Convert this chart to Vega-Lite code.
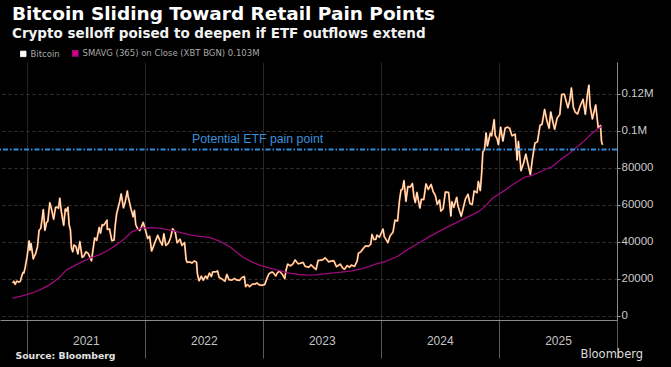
{
  "$schema": "https://vega.github.io/schema/vega-lite/v6.json",
  "width": 617,
  "height": 258,
  "autosize": {"type": "none"},
  "padding": {"left": 0, "top": 62, "right": 54, "bottom": 47},
  "background": "#000000",
  "config": {"view": {"stroke": null}},
  "title": {
    "text": "Bitcoin Sliding Toward Retail Pain Points",
    "subtitle": "Crypto selloff poised to deepen if ETF outflows extend",
    "anchor": "start", "frame": "group", "dx": 12, "offset": 9,
    "font": "DejaVu Sans", "fontSize": 18.5, "fontWeight": "bold", "color": "#ffffff",
    "subtitleFont": "DejaVu Sans", "subtitleFontSize": 13.5, "subtitleFontWeight": "bold",
    "subtitleColor": "#f2f2f2", "subtitlePadding": 3
  },
  "data": {"values": [
{"s":"B","d":"2020-11-18","v":17800},{"s":"B","d":"2020-11-22","v":18700},{"s":"B","d":"2020-11-26","v":17100},{"s":"B","d":"2020-12-01","v":18800},{"s":"B","d":"2020-12-08","v":18300},{"s":"B","d":"2020-12-12","v":18800},{"s":"B","d":"2020-12-16","v":21300},{"s":"B","d":"2020-12-20","v":23500},{"s":"B","d":"2020-12-23","v":23200},{"s":"B","d":"2020-12-27","v":26300},
{"s":"B","d":"2021-01-02","v":32200},{"s":"B","d":"2021-01-08","v":40600},{"s":"B","d":"2021-01-11","v":35500},{"s":"B","d":"2021-01-14","v":39200},{"s":"B","d":"2021-01-21","v":30800},{"s":"B","d":"2021-01-24","v":32300},{"s":"B","d":"2021-01-28","v":33500},{"s":"B","d":"2021-02-03","v":37600},{"s":"B","d":"2021-02-08","v":46400},{"s":"B","d":"2021-02-13","v":47200},{"s":"B","d":"2021-02-17","v":52100},{"s":"B","d":"2021-02-21","v":57500},{"s":"B","d":"2021-02-26","v":46300},{"s":"B","d":"2021-03-03","v":50500},{"s":"B","d":"2021-03-07","v":51200},{"s":"B","d":"2021-03-13","v":61200},{"s":"B","d":"2021-03-17","v":58900},{"s":"B","d":"2021-03-25","v":52300},{"s":"B","d":"2021-03-31","v":58800},{"s":"B","d":"2021-04-05","v":58800},{"s":"B","d":"2021-04-09","v":58200},{"s":"B","d":"2021-04-13","v":63600},{"s":"B","d":"2021-04-18","v":56200},{"s":"B","d":"2021-04-25","v":49000},{"s":"B","d":"2021-04-30","v":57800},{"s":"B","d":"2021-05-03","v":56600},{"s":"B","d":"2021-05-08","v":58800},{"s":"B","d":"2021-05-12","v":49200},{"s":"B","d":"2021-05-16","v":46400},{"s":"B","d":"2021-05-19","v":36800},{"s":"B","d":"2021-05-23","v":34700},{"s":"B","d":"2021-05-27","v":38400},{"s":"B","d":"2021-06-02","v":37600},{"s":"B","d":"2021-06-08","v":33500},{"s":"B","d":"2021-06-14","v":40200},{"s":"B","d":"2021-06-21","v":31700},{"s":"B","d":"2021-06-26","v":32200},{"s":"B","d":"2021-07-03","v":34700},{"s":"B","d":"2021-07-10","v":33800},{"s":"B","d":"2021-07-20","v":29800},{"s":"B","d":"2021-07-26","v":37300},{"s":"B","d":"2021-07-30","v":42200},{"s":"B","d":"2021-08-05","v":40800},{"s":"B","d":"2021-08-13","v":47800},{"s":"B","d":"2021-08-17","v":44700},{"s":"B","d":"2021-08-22","v":49300},{"s":"B","d":"2021-08-27","v":49000},{"s":"B","d":"2021-09-06","v":51800},{"s":"B","d":"2021-09-07","v":46800},{"s":"B","d":"2021-09-14","v":47000},{"s":"B","d":"2021-09-21","v":40700},{"s":"B","d":"2021-09-28","v":41000},{"s":"B","d":"2021-10-01","v":48200},{"s":"B","d":"2021-10-06","v":55400},{"s":"B","d":"2021-10-15","v":61600},{"s":"B","d":"2021-10-20","v":66000},{"s":"B","d":"2021-10-27","v":58400},{"s":"B","d":"2021-11-01","v":61300},{"s":"B","d":"2021-11-08","v":67600},{"s":"B","d":"2021-11-10","v":64900},{"s":"B","d":"2021-11-16","v":60400},{"s":"B","d":"2021-11-19","v":58100},{"s":"B","d":"2021-11-26","v":53600},{"s":"B","d":"2021-11-30","v":57000},{"s":"B","d":"2021-12-04","v":49400},{"s":"B","d":"2021-12-10","v":47100},{"s":"B","d":"2021-12-17","v":46200},{"s":"B","d":"2021-12-27","v":50600},
{"s":"B","d":"2022-01-03","v":46400},{"s":"B","d":"2022-01-10","v":41800},{"s":"B","d":"2022-01-16","v":43100},{"s":"B","d":"2022-01-22","v":35100},{"s":"B","d":"2022-01-27","v":37200},{"s":"B","d":"2022-02-05","v":41400},{"s":"B","d":"2022-02-10","v":43600},{"s":"B","d":"2022-02-17","v":40600},{"s":"B","d":"2022-02-24","v":38300},{"s":"B","d":"2022-03-01","v":44400},{"s":"B","d":"2022-03-07","v":38100},{"s":"B","d":"2022-03-15","v":39300},{"s":"B","d":"2022-03-22","v":42400},{"s":"B","d":"2022-03-28","v":47100},{"s":"B","d":"2022-04-05","v":45500},{"s":"B","d":"2022-04-11","v":39500},{"s":"B","d":"2022-04-20","v":41500},{"s":"B","d":"2022-04-26","v":38100},{"s":"B","d":"2022-05-04","v":39700},{"s":"B","d":"2022-05-09","v":30300},{"s":"B","d":"2022-05-12","v":29000},{"s":"B","d":"2022-05-20","v":29200},{"s":"B","d":"2022-05-27","v":28600},{"s":"B","d":"2022-06-03","v":29700},{"s":"B","d":"2022-06-10","v":29100},{"s":"B","d":"2022-06-13","v":22500},{"s":"B","d":"2022-06-18","v":19000},{"s":"B","d":"2022-06-25","v":21500},{"s":"B","d":"2022-07-01","v":19300},{"s":"B","d":"2022-07-08","v":21600},{"s":"B","d":"2022-07-13","v":20200},{"s":"B","d":"2022-07-20","v":23200},{"s":"B","d":"2022-07-26","v":21300},{"s":"B","d":"2022-07-30","v":23800},{"s":"B","d":"2022-08-10","v":23900},{"s":"B","d":"2022-08-14","v":24400},{"s":"B","d":"2022-08-19","v":20800},{"s":"B","d":"2022-08-26","v":20200},{"s":"B","d":"2022-09-06","v":18800},{"s":"B","d":"2022-09-12","v":22400},{"s":"B","d":"2022-09-19","v":19500},{"s":"B","d":"2022-09-28","v":19400},{"s":"B","d":"2022-10-05","v":20200},{"s":"B","d":"2022-10-13","v":19400},{"s":"B","d":"2022-10-21","v":19200},{"s":"B","d":"2022-10-29","v":20800},{"s":"B","d":"2022-11-05","v":21300},{"s":"B","d":"2022-11-09","v":15900},{"s":"B","d":"2022-11-15","v":16900},{"s":"B","d":"2022-11-21","v":15800},{"s":"B","d":"2022-11-30","v":17200},{"s":"B","d":"2022-12-08","v":17200},{"s":"B","d":"2022-12-14","v":17800},{"s":"B","d":"2022-12-21","v":16800},{"s":"B","d":"2022-12-30","v":16600},
{"s":"B","d":"2023-01-07","v":16950},{"s":"B","d":"2023-01-13","v":19900},{"s":"B","d":"2023-01-20","v":22800},{"s":"B","d":"2023-01-29","v":23700},{"s":"B","d":"2023-02-02","v":23500},{"s":"B","d":"2023-02-10","v":21600},{"s":"B","d":"2023-02-16","v":23500},{"s":"B","d":"2023-02-22","v":24200},{"s":"B","d":"2023-03-03","v":22400},{"s":"B","d":"2023-03-10","v":20200},{"s":"B","d":"2023-03-14","v":24700},{"s":"B","d":"2023-03-19","v":28000},{"s":"B","d":"2023-03-28","v":27100},{"s":"B","d":"2023-04-05","v":28200},{"s":"B","d":"2023-04-11","v":30300},{"s":"B","d":"2023-04-20","v":28200},{"s":"B","d":"2023-04-26","v":28400},{"s":"B","d":"2023-05-06","v":28900},{"s":"B","d":"2023-05-12","v":26800},{"s":"B","d":"2023-05-24","v":26300},{"s":"B","d":"2023-05-30","v":27700},{"s":"B","d":"2023-06-10","v":25800},{"s":"B","d":"2023-06-15","v":25100},{"s":"B","d":"2023-06-21","v":30000},{"s":"B","d":"2023-06-28","v":30100},{"s":"B","d":"2023-07-06","v":30400},{"s":"B","d":"2023-07-13","v":31400},{"s":"B","d":"2023-07-24","v":29200},{"s":"B","d":"2023-08-01","v":29700},{"s":"B","d":"2023-08-09","v":29800},{"s":"B","d":"2023-08-17","v":26600},{"s":"B","d":"2023-08-29","v":28000},{"s":"B","d":"2023-09-06","v":25800},{"s":"B","d":"2023-09-11","v":25200},{"s":"B","d":"2023-09-19","v":27200},{"s":"B","d":"2023-09-27","v":26300},{"s":"B","d":"2023-10-02","v":27500},{"s":"B","d":"2023-10-12","v":26800},{"s":"B","d":"2023-10-20","v":29700},{"s":"B","d":"2023-10-24","v":33900},{"s":"B","d":"2023-10-31","v":34600},{"s":"B","d":"2023-11-09","v":36700},{"s":"B","d":"2023-11-15","v":37900},{"s":"B","d":"2023-11-24","v":37700},{"s":"B","d":"2023-12-01","v":38700},{"s":"B","d":"2023-12-05","v":44000},{"s":"B","d":"2023-12-11","v":41300},{"s":"B","d":"2023-12-17","v":41400},{"s":"B","d":"2023-12-20","v":43700},{"s":"B","d":"2023-12-28","v":42600},
{"s":"B","d":"2024-01-08","v":47000},{"s":"B","d":"2024-01-12","v":42800},{"s":"B","d":"2024-01-18","v":41200},{"s":"B","d":"2024-01-23","v":39600},{"s":"B","d":"2024-01-30","v":43300},{"s":"B","d":"2024-02-08","v":45300},{"s":"B","d":"2024-02-14","v":51800},{"s":"B","d":"2024-02-22","v":51300},{"s":"B","d":"2024-02-28","v":62400},{"s":"B","d":"2024-03-04","v":68300},{"s":"B","d":"2024-03-08","v":68300},{"s":"B","d":"2024-03-13","v":73100},{"s":"B","d":"2024-03-19","v":62000},{"s":"B","d":"2024-03-25","v":70000},{"s":"B","d":"2024-04-01","v":69600},{"s":"B","d":"2024-04-08","v":71600},{"s":"B","d":"2024-04-13","v":64000},{"s":"B","d":"2024-04-17","v":61300},{"s":"B","d":"2024-04-22","v":66800},{"s":"B","d":"2024-05-01","v":58300},{"s":"B","d":"2024-05-06","v":63100},{"s":"B","d":"2024-05-13","v":62900},{"s":"B","d":"2024-05-20","v":71400},{"s":"B","d":"2024-05-27","v":68400},{"s":"B","d":"2024-06-05","v":71100},{"s":"B","d":"2024-06-11","v":67300},{"s":"B","d":"2024-06-18","v":65100},{"s":"B","d":"2024-06-24","v":60300},{"s":"B","d":"2024-07-01","v":62700},{"s":"B","d":"2024-07-05","v":56700},{"s":"B","d":"2024-07-12","v":57900},{"s":"B","d":"2024-07-19","v":67000},{"s":"B","d":"2024-07-29","v":66800},{"s":"B","d":"2024-08-05","v":54000},{"s":"B","d":"2024-08-08","v":61700},{"s":"B","d":"2024-08-14","v":58700},{"s":"B","d":"2024-08-23","v":64100},{"s":"B","d":"2024-08-27","v":59400},{"s":"B","d":"2024-09-06","v":53900},{"s":"B","d":"2024-09-12","v":58100},{"s":"B","d":"2024-09-19","v":63200},{"s":"B","d":"2024-09-27","v":65800},{"s":"B","d":"2024-10-03","v":60700},{"s":"B","d":"2024-10-10","v":60300},{"s":"B","d":"2024-10-16","v":67600},{"s":"B","d":"2024-10-25","v":66600},{"s":"B","d":"2024-10-29","v":72700},{"s":"B","d":"2024-11-04","v":67800},{"s":"B","d":"2024-11-08","v":76500},{"s":"B","d":"2024-11-12","v":88700},{"s":"B","d":"2024-11-17","v":89800},{"s":"B","d":"2024-11-22","v":98900},{"s":"B","d":"2024-11-26","v":91900},{"s":"B","d":"2024-12-05","v":98800},{"s":"B","d":"2024-12-09","v":97400},{"s":"B","d":"2024-12-17","v":106100},{"s":"B","d":"2024-12-20","v":97700},{"s":"B","d":"2024-12-26","v":95800},{"s":"B","d":"2024-12-30","v":92600},
{"s":"B","d":"2025-01-06","v":102100},{"s":"B","d":"2025-01-13","v":94500},{"s":"B","d":"2025-01-20","v":101500},{"s":"B","d":"2025-01-27","v":102100},{"s":"B","d":"2025-02-03","v":101400},{"s":"B","d":"2025-02-10","v":97400},{"s":"B","d":"2025-02-20","v":98300},{"s":"B","d":"2025-02-26","v":84300},{"s":"B","d":"2025-03-02","v":94300},{"s":"B","d":"2025-03-10","v":78500},{"s":"B","d":"2025-03-18","v":82700},{"s":"B","d":"2025-03-25","v":87500},{"s":"B","d":"2025-03-31","v":82500},{"s":"B","d":"2025-04-08","v":76300},{"s":"B","d":"2025-04-14","v":84500},{"s":"B","d":"2025-04-22","v":93400},{"s":"B","d":"2025-04-30","v":94200},{"s":"B","d":"2025-05-08","v":103200},{"s":"B","d":"2025-05-14","v":103500},{"s":"B","d":"2025-05-22","v":111700},{"s":"B","d":"2025-05-29","v":105600},{"s":"B","d":"2025-06-05","v":101500},{"s":"B","d":"2025-06-10","v":110300},{"s":"B","d":"2025-06-17","v":104600},{"s":"B","d":"2025-06-22","v":100900},{"s":"B","d":"2025-06-30","v":107100},{"s":"B","d":"2025-07-08","v":108900},{"s":"B","d":"2025-07-14","v":119800},{"s":"B","d":"2025-07-22","v":119900},{"s":"B","d":"2025-08-02","v":112500},{"s":"B","d":"2025-08-08","v":116700},{"s":"B","d":"2025-08-13","v":123300},{"s":"B","d":"2025-08-19","v":112800},{"s":"B","d":"2025-08-25","v":110100},{"s":"B","d":"2025-09-01","v":109200},{"s":"B","d":"2025-09-10","v":113900},{"s":"B","d":"2025-09-18","v":117100},{"s":"B","d":"2025-09-25","v":109000},{"s":"B","d":"2025-10-02","v":120600},{"s":"B","d":"2025-10-06","v":124700},{"s":"B","d":"2025-10-10","v":113200},{"s":"B","d":"2025-10-17","v":106500},{"s":"B","d":"2025-10-27","v":114100},{"s":"B","d":"2025-11-04","v":101600},{"s":"B","d":"2025-11-11","v":102900},{"s":"B","d":"2025-11-14","v":94500},{"s":"B","d":"2025-11-17","v":92500},
{"s":"S","d":"2020-11-18","v":9600},{"s":"S","d":"2020-12-15","v":10700},{"s":"S","d":"2021-01-19","v":12400},{"s":"S","d":"2021-02-15","v":14500},{"s":"S","d":"2021-03-12","v":16800},{"s":"S","d":"2021-04-10","v":20500},{"s":"S","d":"2021-05-04","v":24900},{"s":"S","d":"2021-06-01","v":27500},{"s":"S","d":"2021-06-22","v":29400},{"s":"S","d":"2021-07-15","v":31200},{"s":"S","d":"2021-08-13","v":33000},{"s":"S","d":"2021-09-10","v":35500},{"s":"S","d":"2021-10-05","v":38400},{"s":"S","d":"2021-11-01","v":42000},{"s":"S","d":"2021-11-23","v":45600},{"s":"S","d":"2021-12-24","v":47600},{"s":"S","d":"2022-01-25","v":47800},{"s":"S","d":"2022-02-20","v":47300},{"s":"S","d":"2022-03-17","v":46500},{"s":"S","d":"2022-04-20","v":45200},{"s":"S","d":"2022-05-21","v":43800},{"s":"S","d":"2022-06-20","v":43000},{"s":"S","d":"2022-07-20","v":42500},{"s":"S","d":"2022-08-20","v":40500},{"s":"S","d":"2022-09-20","v":37500},{"s":"S","d":"2022-10-30","v":32000},{"s":"S","d":"2022-11-25","v":29500},{"s":"S","d":"2022-12-20","v":27600},{"s":"S","d":"2023-01-20","v":26000},{"s":"S","d":"2023-02-22","v":24500},{"s":"S","d":"2023-03-25","v":23200},{"s":"S","d":"2023-04-23","v":22400},{"s":"S","d":"2023-05-20","v":22100},{"s":"S","d":"2023-06-13","v":22200},{"s":"S","d":"2023-07-24","v":23000},{"s":"S","d":"2023-08-25","v":23600},{"s":"S","d":"2023-10-04","v":24400},{"s":"S","d":"2023-11-05","v":25600},{"s":"S","d":"2023-11-25","v":26700},{"s":"S","d":"2023-12-20","v":28300},{"s":"S","d":"2024-01-15","v":29400},{"s":"S","d":"2024-02-24","v":32400},{"s":"S","d":"2024-03-25","v":36000},{"s":"S","d":"2024-04-27","v":39300},{"s":"S","d":"2024-05-28","v":42600},{"s":"S","d":"2024-06-28","v":45600},{"s":"S","d":"2024-07-28","v":48300},{"s":"S","d":"2024-08-28","v":51000},{"s":"S","d":"2024-09-28","v":53700},{"s":"S","d":"2024-10-30","v":56400},{"s":"S","d":"2024-11-20","v":59500},{"s":"S","d":"2024-12-12","v":63600},{"s":"S","d":"2025-01-15","v":67500},{"s":"S","d":"2025-02-12","v":70900},{"s":"S","d":"2025-03-21","v":75000},{"s":"S","d":"2025-04-12","v":75900},{"s":"S","d":"2025-05-15","v":78500},{"s":"S","d":"2025-06-14","v":80700},{"s":"S","d":"2025-07-10","v":84500},{"s":"S","d":"2025-08-07","v":88000},{"s":"S","d":"2025-09-01","v":91600},{"s":"S","d":"2025-09-24","v":95000},{"s":"S","d":"2025-10-15","v":98700},{"s":"S","d":"2025-11-06","v":101500},{"s":"S","d":"2025-11-17","v":102800}
  ]},
  "layer": [
    {
      "transform": [{"filter": "datum.s === 'B'"}],
      "mark": {"type": "line", "color": "#f5893a", "strokeWidth": 1.9, "strokeJoin": "round"},
      "encoding": {
        "x": {"field": "d", "type": "temporal",
          "scale": {"type": "utc", "domain": [{"year": 2020, "month": 10, "date": 10, "utc": true}, {"year": 2026, "month": 1, "date": 1, "utc": true}]},
          "axis": {
            "values": [{"year": 2021, "month": 1, "date": 1, "utc": true}, {"year": 2022, "month": 1, "date": 1, "utc": true}, {"year": 2023, "month": 1, "date": 1, "utc": true}, {"year": 2024, "month": 1, "date": 1, "utc": true}, {"year": 2025, "month": 1, "date": 1, "utc": true}, {"year": 2026, "month": 1, "date": 1, "utc": true}],
            "format": "%Y",
            "labelExpr": "utcyear(datum.value) === 2026 ? '' : datum.label",
            "labelOffset": 59, "labelPadding": -23, "labelBaseline": "top",
            "labelFont": "Liberation Sans", "labelFontSize": 12, "labelColor": "#c4c4c4",
            "tickSize": 38, "tickColor": "#5a5a5a", "tickWidth": 1,
            "domainColor": "#8a8a8a", "domainWidth": 1,
            "grid": true, "gridColor": "#262626", "gridWidth": 1,
            "labelFlush": false, "labelOverlap": false,
            "title": "Source: Bloomberg", "titleX": 15, "titleY": 35, "titleAlign": "left", "titleBaseline": "middle",
            "titleFont": "DejaVu Sans", "titleFontSize": 9.3, "titleFontWeight": "bold", "titleColor": "#e0e0e0"
          }
        },
        "y": {"field": "v", "type": "quantitative",
          "scale": {"domain": [-2200, 137300], "nice": false, "zero": false},
          "axis": {
            "orient": "right",
            "values": [0, 10000, 20000, 30000, 40000, 50000, 60000, 70000, 80000, 90000, 100000, 110000, 120000, 130000],
            "labelExpr": "datum.value % 20000 !== 0 ? '' : (datum.value >= 100000 ? (datum.value / 1000000) + 'M' : format(datum.value, 'd'))",
            "labelFont": "Liberation Sans", "labelFontSize": 11.5, "labelColor": "#cccccc", "labelPadding": 1,
            "tickSize": 3, "tickColor": "#9a9a9a",
            "domainColor": "#8a8a8a", "domainWidth": 1,
            "grid": true, "gridColor": "#363636", "gridDash": [3, 3],
            "gridOpacity": {"condition": {"test": "datum.value % 20000 === 0", "value": 1}, "value": 0},
            "labelOverlap": false,
            "title": "Bloomberg", "titleAngle": 0, "titleX": -37, "titleY": 292, "titleAlign": "left", "titleBaseline": "middle",
            "titleFont": "DejaVu Sans", "titleFontSize": 11.5, "titleFontWeight": "normal", "titleColor": "#dddddd"
          }
        }
      }
    },
    {
      "mark": {"type": "line", "strokeJoin": "round"},
      "encoding": {
        "x": {"field": "d", "type": "temporal"},
        "y": {"field": "v", "type": "quantitative"},
        "color": {"field": "s", "type": "nominal",
          "scale": {"domain": ["B", "S"], "range": ["#ffffff", "#9c0a7c"]},
          "legend": {
            "orient": "none", "legendX": 19, "legendY": -13, "direction": "horizontal", "title": null,
            "labelExpr": "datum.value === 'B' ? 'Bitcoin' : 'SMAVG (365)  on Close (XBT BGN) 0.103M'",
            "labelLimit": 400,
            "symbolType": "square", "symbolSize": 30, "symbolStrokeWidth": 0,
            "labelFont": "DejaVu Sans", "labelFontSize": 8.5, "labelColor": "#a8a8a8",
            "labelOffset": 3, "columnPadding": 9,
            "encode": {"symbols": {"update": {"fill": {"signal": "datum.value === 'B' ? '#ffffff' : '#e2008a'"}, "strokeWidth": {"value": 0}}}}
          }
        },
        "strokeWidth": {"field": "s", "type": "nominal", "scale": {"domain": ["B", "S"], "range": [0.85, 1.3]}, "legend": null}
      }
    },
    {
      "data": {"values": [{"v": 90000}]},
      "mark": {"type": "rule", "color": "#2f8ada", "strokeWidth": 2, "strokeDash": [5, 2, 1.5, 2]},
      "encoding": {"y": {"field": "v", "type": "quantitative"}}
    },
    {
      "data": {"values": [{"d": "2022-05-27", "v": 90000, "t": "Potential ETF pain point"}]},
      "mark": {"type": "text", "align": "left", "baseline": "alphabetic", "dy": -6, "font": "Liberation Sans", "fontSize": 12.3, "color": "#3a90dc"},
      "encoding": {
        "x": {"field": "d", "type": "temporal"},
        "y": {"field": "v", "type": "quantitative"},
        "text": {"field": "t"}
      }
    }
  ]
}
